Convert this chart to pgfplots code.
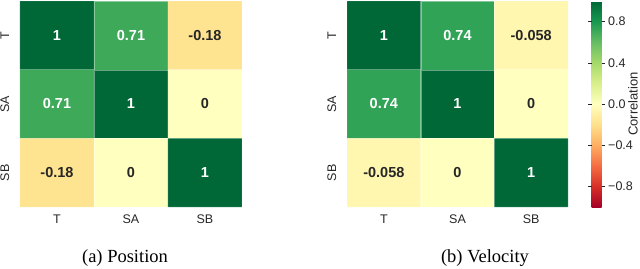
\documentclass[border=0pt]{standalone}
\usepackage{fontspec}
\setmainfont{Liberation Sans}
\newfontfamily\capfont{Liberation Serif}
\usepackage{pgfplots}
\pgfplotsset{compat=1.18}
\pgfplotsset{colormap={RdYlGn}{rgb255=(165,0,38) rgb255=(215,48,39) rgb255=(244,109,67) rgb255=(253,174,97) rgb255=(254,224,139) rgb255=(255,255,191) rgb255=(217,239,139) rgb255=(166,217,106) rgb255=(102,189,99) rgb255=(26,152,80) rgb255=(0,104,55)}}
\definecolor{txtdark}{HTML}{262626}
\pgfplotsset{hm/.style={
  scale only axis, height=206pt,
  xmin=-0.5,xmax=2.5,ymin=-0.5,ymax=2.5, y dir=reverse,
  xtick={0,1,2}, ytick={0,1,2}, xticklabels={T,SA,SB}, yticklabels={T,SA,SB},
  major tick length=0pt, axis line style={draw=none},
  point meta min=-1, point meta max=1, colormap name=RdYlGn,
  tick label style={font=\fontsize{12.5}{14}\selectfont, text=txtdark},
  xticklabel style={anchor=north, inner sep=0pt},
  xticklabel shift=8pt,
  yticklabel style={rotate=90, anchor=base, inner sep=0pt},
  yticklabel shift=11pt,
  enlargelimits=false,
  anchor=south west,
},
lblw/.style={only marks, mark=none, point meta=explicit symbolic,
  nodes near coords={\bfseries\fontsize{14.5}{16}\selectfont\pgfplotspointmeta}, nodes near coords align=center,
  every node near coord/.append style={text=white, inner sep=0pt, anchor=center}},
lbld/.style={lblw, every node near coord/.append style={text=txtdark}}
}
\pgfplotstableread{
x y v
0 0 1
1 0 0.71
2 0 -0.18
0 1 0.71
1 1 1
2 1 0
0 2 -0.18
1 2 0
2 2 1
}\pos
\pgfplotstableread{
x y v
0 0 1
1 0 0.74
2 0 -0.058
0 1 0.74
1 1 1
2 1 0
0 2 -0.058
1 2 0
2 2 1
}\vel
\begin{document}
\begin{tikzpicture}
\path[use as bounding box] (0,0) rectangle (640pt,268pt);
\begin{axis}[hm, width=222pt, at={(20pt,61pt)}]
\addplot[matrix plot*, mesh/cols=3, point meta=explicit, draw=white, draw opacity=0.4, line width=0.1pt] table[meta=v] {\pos};
\addplot[lblw] table[meta=l] {
x y l
0 0 1
1 0 0.71
0 1 0.71
1 1 1
2 2 1
};
\addplot[lbld] table[meta=l] {
x y l
2 0 -0.18
2 1 0
0 2 -0.18
1 2 0
};
\end{axis}
\begin{axis}[hm, width=221pt, at={(347pt,61pt)},
  colorbar,
  colorbar style={at={(parent axis.north east)}, anchor=north west, xshift=15pt,
    scale only axis, width=10pt, height=206pt,
    ytick={-0.8,-0.4,0,0.4,0.8}, yticklabels={−0.8,−0.4,0.0,0.4,0.8},
    major tick length=3.5pt, tick align=outside, yticklabel pos=right,
    tick style={txtdark, line width=0.6pt},
    axis line style={draw=none},
    yticklabel style={rotate=0, anchor=west, inner sep=0pt, font=\fontsize{12.5}{14}\selectfont, text=txtdark},
    yticklabel shift=3pt,
    ylabel={Correlation}, ylabel style={font=\fontsize{13}{15}\selectfont, text=txtdark, inner sep=0pt},
    ylabel shift=-5pt,
  }]
\addplot[matrix plot*, mesh/cols=3, point meta=explicit, draw=white, draw opacity=0.4, line width=0.1pt] table[meta=v] {\vel};
\addplot[lblw] table[meta=l] {
x y l
0 0 1
1 0 0.74
0 1 0.74
1 1 1
2 2 1
};
\addplot[lbld] table[meta=l] {
x y l
2 0 -0.058
2 1 0
0 2 -0.058
1 2 0
};
\end{axis}
\node[font=\capfont\fontsize{18.5}{20}\selectfont, inner sep=0pt] at (125pt,10pt) {(a) Position};
\node[font=\capfont\fontsize{18.5}{20}\selectfont, inner sep=0pt] at (485pt,10pt) {(b) Velocity};
\end{tikzpicture}
\end{document}
